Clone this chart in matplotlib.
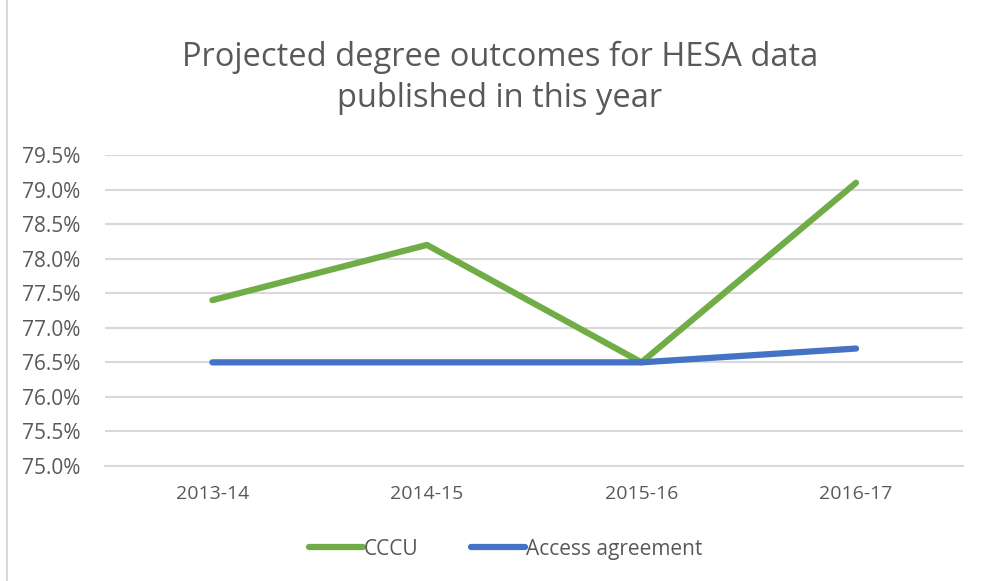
import matplotlib.pyplot as plt
from matplotlib.ticker import FuncFormatter
from matplotlib.patches import Rectangle

# Chart data
years = ['2013-14', '2014-15', '2015-16', '2016-17']
cccu = [77.4, 78.2, 76.5, 79.1]
access = [76.5, 76.5, 76.5, 76.7]
y_ticks = [75.0, 75.5, 76.0, 76.5, 77.0, 77.5, 78.0, 78.5, 79.0, 79.5]

plt.rcParams['font.family'] = ['Open Sans', 'DejaVu Sans']
txt = '#595959'

fig = plt.figure(figsize=(9.82, 5.81), dpi=100)
ax = fig.add_axes([0.107, 0.198, 0.874, 0.535])

# thin light border round the chart area
fig.patches.append(Rectangle((0.007, -0.01), 1.2, 1.2, transform=fig.transFigure,
                             fill=False, ec='#d9d9d9', lw=1.5))

x = range(len(years))
ax.plot(x, cccu, color='#70ad47', lw=4.5, solid_capstyle='round', label='CCCU')
ax.plot(x, access, color='#4472c4', lw=4.5, solid_capstyle='round', label='Access agreement')

ax.set_xlim(-0.5, len(years) - 0.5)
ax.set_ylim(75.0, 79.5)
ax.set_yticks(y_ticks)
ax.yaxis.set_major_formatter(FuncFormatter(lambda v, p: f'{v:.1f}%'))
ax.set_xticks(list(x))
ax.set_xticklabels(years)
ax.grid(axis='y', color='#d9d9d9', lw=1.5)
ax.set_axisbelow(True)
for s in ['top', 'right', 'left']:
    ax.spines[s].set_visible(False)
ax.spines['bottom'].set_color('#d9d9d9')
ax.spines['bottom'].set_linewidth(1.5)
ax.tick_params(axis='y', length=0, labelsize=15, labelcolor=txt, pad=18)
ax.tick_params(axis='x', length=0, labelsize=14, labelcolor=txt, pad=14)

fig.text(0.509, 0.866, 'Projected degree outcomes for HESA data\npublished in this year',
         ha='center', va='center', fontsize=23.5, color=txt, linespacing=1.3)

fig.legend(loc='center', bbox_to_anchor=(0.515, 0.055), ncol=2, frameon=False,
           fontsize=15, labelcolor=txt, handlelength=2.6, handletextpad=0.05,
           columnspacing=2.5)

fig.savefig('out.png', dpi=100)
